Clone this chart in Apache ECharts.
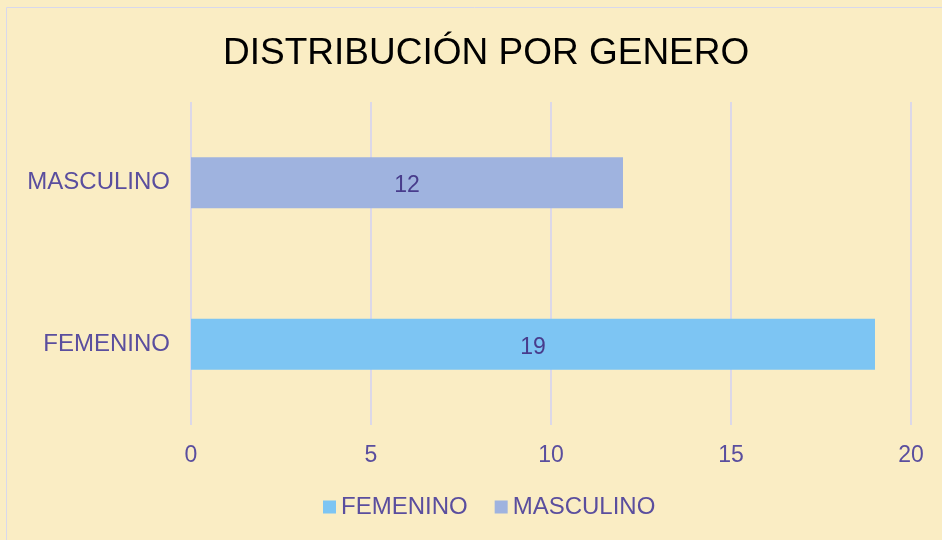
<!DOCTYPE html>
<html>
<head>
<meta charset="utf-8">
<script src="https://cdn.jsdelivr.net/npm/echarts@6/dist/echarts.min.js"></script>
<style>
html,body{margin:0;padding:0;background:#FAEDC4;}
#c{width:942px;height:540px;}
</style>
</head>
<body>
<div id="c"></div>
<script>
const categories = ['FEMENINO', 'MASCULINO'];
const seriesNames = ['FEMENINO', 'MASCULINO'];
const femeninoValues = [19, '-'];
const masculinoValues = ['-', 12];
const xTicks = [0, 5, 10, 15, 20];

const textColor = '#5A4E9E';
const font = 'Liberation Sans, Arial, Helvetica, sans-serif';

const chart = echarts.init(document.getElementById('c'));
chart.setOption({
  backgroundColor: '#FAEDC4',
  animation: false,
  title: {
    text: 'DISTRIBUCIÓN POR GENERO',
    left: 218,
    top: 30,
    textStyle: { fontFamily: font, fontSize: 37, fontWeight: 'normal', color: '#000000' }
  },
  graphic: [{
    type: 'rect',
    shape: { x: 6.5, y: 7.5, width: 960, height: 560 },
    style: { fill: 'none', stroke: '#D8D8EC', lineWidth: 1 },
    silent: true
  }],
  legend: {
    data: seriesNames,
    top: 490,
    left: 318,
    icon: 'rect',
    itemWidth: 13,
    itemHeight: 13,
    itemGap: 27,
    textStyle: { fontFamily: font, fontSize: 24, color: textColor }
  },
  grid: { left: 191, right: 31, top: 102, bottom: 115, containLabel: false },
  xAxis: {
    type: 'value',
    min: xTicks[0],
    max: xTicks[xTicks.length - 1],
    interval: 5,
    axisLine: { show: false },
    axisTick: { show: false },
    axisLabel: { fontFamily: font, fontSize: 23, color: textColor, margin: 19 },
    splitLine: { show: true, lineStyle: { color: '#DCD8E8', width: 2 } }
  },
  yAxis: {
    type: 'category',
    data: categories,
    axisLine: { show: false },
    axisTick: { show: false },
    axisLabel: { fontFamily: font, fontSize: 24, color: textColor, margin: 21 }
  },
  series: [
    {
      name: seriesNames[0], type: 'bar', stack: 'g', data: femeninoValues, barWidth: 51,
      itemStyle: { color: '#7DC5F3' },
      label: { show: true, position: 'inside', fontFamily: font, fontSize: 23, color: '#483C8C', offset: [0, 3] }
    },
    {
      name: seriesNames[1], type: 'bar', stack: 'g', data: masculinoValues, barWidth: 51,
      itemStyle: { color: '#9FB3DF' },
      label: { show: true, position: 'inside', fontFamily: font, fontSize: 23, color: '#483C8C', offset: [0, 3] }
    }
  ]
});
</script>
</body>
</html>
